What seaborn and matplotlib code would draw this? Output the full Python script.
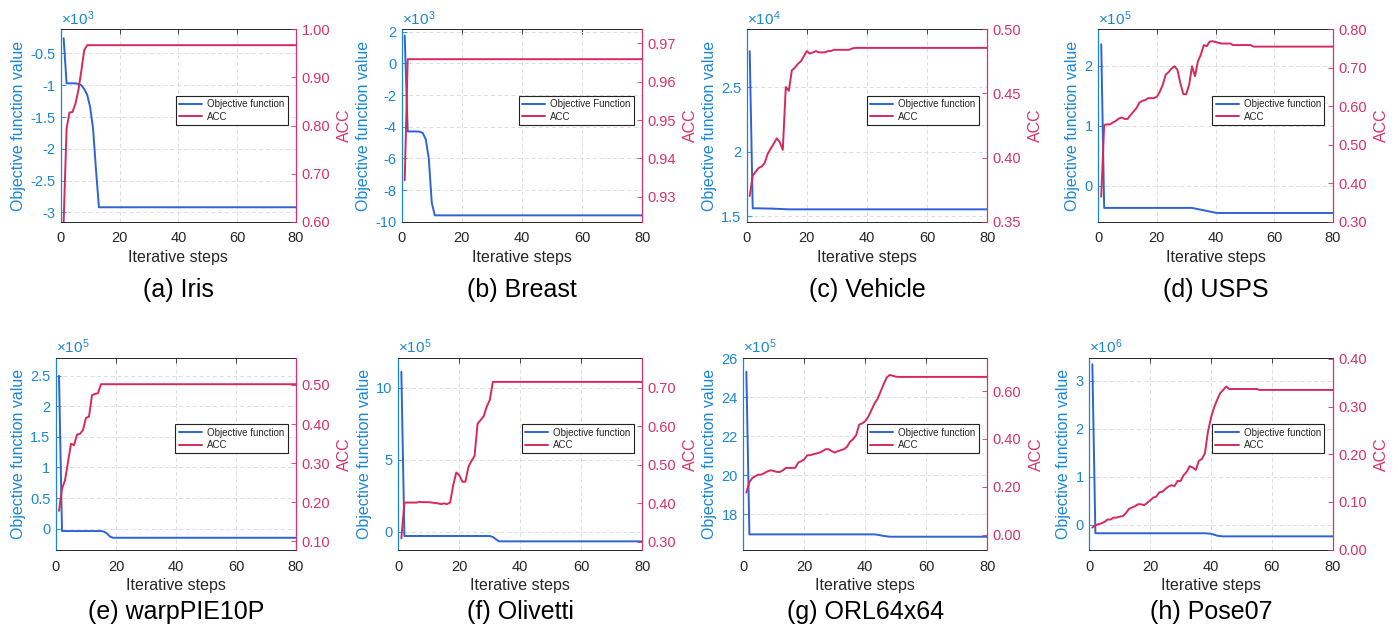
import matplotlib
matplotlib.use("Agg")
import matplotlib.pyplot as plt
import seaborn as sns
from matplotlib.ticker import FuncFormatter, FixedLocator

# ---------------- data ----------------
steps = list(range(1, 81))

titles = ['(a) Iris', '(b) Breast', '(c) Vehicle', '(d) USPS',
          '(e) warpPIE10P', '(f) Olivetti', '(g) ORL64x64', '(h) Pose07']
obj_names = ['Objective function', 'Objective Function', 'Objective function', 'Objective function',
             'Objective function', 'Objective function', 'Objective function', 'Objective function']
obj_exponents = [3, 3, 4, 5, 5, 5, 5, 6]

obj_iris = [-0.26, -0.97, -0.97, -0.97, -0.97, -0.98, -1.00, -1.06, -1.15, -1.34,
            -1.68, -2.33, -2.92, -2.92, -2.92, -2.92, -2.92, -2.92, -2.92, -2.92,
            -2.92, -2.92, -2.92, -2.92, -2.92, -2.92, -2.92, -2.92, -2.92, -2.92,
            -2.92, -2.92, -2.92, -2.92, -2.92, -2.92, -2.92, -2.92, -2.92, -2.92,
            -2.92, -2.92, -2.92, -2.92, -2.92, -2.92, -2.92, -2.92, -2.92, -2.92,
            -2.92, -2.92, -2.92, -2.92, -2.92, -2.92, -2.92, -2.92, -2.92, -2.92,
            -2.92, -2.92, -2.92, -2.92, -2.92, -2.92, -2.92, -2.92, -2.92, -2.92,
            -2.92, -2.92, -2.92, -2.92, -2.92, -2.92, -2.92, -2.92, -2.92, -2.92]
acc_iris = [0.600, 0.794, 0.827, 0.828, 0.845, 0.873, 0.913, 0.957, 0.967, 0.967,
            0.967, 0.967, 0.967, 0.967, 0.967, 0.967, 0.967, 0.967, 0.967, 0.967,
            0.967, 0.967, 0.967, 0.967, 0.967, 0.967, 0.967, 0.967, 0.967, 0.967,
            0.967, 0.967, 0.967, 0.967, 0.967, 0.967, 0.967, 0.967, 0.967, 0.967,
            0.967, 0.967, 0.967, 0.967, 0.967, 0.967, 0.967, 0.967, 0.967, 0.967,
            0.967, 0.967, 0.967, 0.967, 0.967, 0.967, 0.967, 0.967, 0.967, 0.967,
            0.967, 0.967, 0.967, 0.967, 0.967, 0.967, 0.967, 0.967, 0.967, 0.967,
            0.967, 0.967, 0.967, 0.967, 0.967, 0.967, 0.967, 0.967, 0.967, 0.967]

obj_breast = [1.75, -4.30, -4.30, -4.30, -4.30, -4.32, -4.40, -4.80, -6.00, -8.80,
              -9.60, -9.60, -9.60, -9.60, -9.60, -9.60, -9.60, -9.60, -9.60, -9.60,
              -9.60, -9.60, -9.60, -9.60, -9.60, -9.60, -9.60, -9.60, -9.60, -9.60,
              -9.60, -9.60, -9.60, -9.60, -9.60, -9.60, -9.60, -9.60, -9.60, -9.60,
              -9.60, -9.60, -9.60, -9.60, -9.60, -9.60, -9.60, -9.60, -9.60, -9.60,
              -9.60, -9.60, -9.60, -9.60, -9.60, -9.60, -9.60, -9.60, -9.60, -9.60,
              -9.60, -9.60, -9.60, -9.60, -9.60, -9.60, -9.60, -9.60, -9.60, -9.60,
              -9.60, -9.60, -9.60, -9.60, -9.60, -9.60, -9.60, -9.60, -9.60, -9.60]
acc_breast = [0.9343, 0.9659, 0.9659, 0.9659, 0.9659, 0.9659, 0.9659, 0.9659, 0.9659, 0.9659,
              0.9659, 0.9659, 0.9659, 0.9659, 0.9659, 0.9659, 0.9659, 0.9659, 0.9659, 0.9659,
              0.9659, 0.9659, 0.9659, 0.9659, 0.9659, 0.9659, 0.9659, 0.9659, 0.9659, 0.9659,
              0.9659, 0.9659, 0.9659, 0.9659, 0.9659, 0.9659, 0.9659, 0.9659, 0.9659, 0.9659,
              0.9659, 0.9659, 0.9659, 0.9659, 0.9659, 0.9659, 0.9659, 0.9659, 0.9659, 0.9659,
              0.9659, 0.9659, 0.9659, 0.9659, 0.9659, 0.9659, 0.9659, 0.9659, 0.9659, 0.9659,
              0.9659, 0.9659, 0.9659, 0.9659, 0.9659, 0.9659, 0.9659, 0.9659, 0.9659, 0.9659,
              0.9659, 0.9659, 0.9659, 0.9659, 0.9659, 0.9659, 0.9659, 0.9659, 0.9659, 0.9659]

obj_vehicle = [2.78, 1.560, 1.560, 1.560, 1.559, 1.559, 1.558, 1.558, 1.557, 1.556,
               1.555, 1.554, 1.553, 1.552, 1.552, 1.552, 1.552, 1.552, 1.552, 1.552,
               1.552, 1.552, 1.552, 1.552, 1.552, 1.552, 1.552, 1.552, 1.552, 1.552,
               1.552, 1.552, 1.552, 1.552, 1.552, 1.552, 1.552, 1.552, 1.552, 1.552,
               1.552, 1.552, 1.552, 1.552, 1.552, 1.552, 1.552, 1.552, 1.552, 1.552,
               1.552, 1.552, 1.552, 1.552, 1.552, 1.552, 1.552, 1.552, 1.552, 1.552,
               1.552, 1.552, 1.552, 1.552, 1.552, 1.552, 1.552, 1.552, 1.552, 1.552,
               1.552, 1.552, 1.552, 1.552, 1.552, 1.552, 1.552, 1.552, 1.552, 1.552]
acc_vehicle = [0.370, 0.386, 0.389, 0.392, 0.393, 0.396, 0.403, 0.407, 0.411, 0.415,
               0.412, 0.406, 0.455, 0.452, 0.468, 0.470, 0.473, 0.475, 0.479, 0.483,
               0.481, 0.482, 0.483, 0.482, 0.482, 0.482, 0.483, 0.483, 0.484, 0.484,
               0.484, 0.484, 0.484, 0.484, 0.485, 0.4855, 0.4855, 0.4855, 0.4855, 0.4855,
               0.4855, 0.4855, 0.4855, 0.4855, 0.4855, 0.4855, 0.4855, 0.4855, 0.4855, 0.4855,
               0.4855, 0.4855, 0.4855, 0.4855, 0.4855, 0.4855, 0.4855, 0.4855, 0.4855, 0.4855,
               0.4855, 0.4855, 0.4855, 0.4855, 0.4855, 0.4855, 0.4855, 0.4855, 0.4855, 0.4855,
               0.4855, 0.4855, 0.4855, 0.4855, 0.4855, 0.4855, 0.4855, 0.4855, 0.4855, 0.4855]

obj_usps = [2.36, -0.37, -0.37, -0.37, -0.37, -0.37, -0.37, -0.37, -0.37, -0.37,
            -0.37, -0.37, -0.37, -0.37, -0.37, -0.37, -0.37, -0.37, -0.37, -0.37,
            -0.37, -0.37, -0.37, -0.37, -0.37, -0.37, -0.37, -0.37, -0.37, -0.37,
            -0.37, -0.37, -0.38, -0.39, -0.40, -0.41, -0.42, -0.43, -0.44, -0.45,
            -0.455, -0.455, -0.455, -0.455, -0.455, -0.455, -0.455, -0.455, -0.455, -0.455,
            -0.455, -0.455, -0.455, -0.455, -0.455, -0.455, -0.455, -0.455, -0.455, -0.455,
            -0.455, -0.455, -0.455, -0.455, -0.455, -0.455, -0.455, -0.455, -0.455, -0.455,
            -0.455, -0.455, -0.455, -0.455, -0.455, -0.455, -0.455, -0.455, -0.455, -0.455]
acc_usps = [0.365, 0.551, 0.553, 0.553, 0.558, 0.562, 0.568, 0.571, 0.567, 0.567,
            0.577, 0.586, 0.595, 0.609, 0.614, 0.616, 0.621, 0.621, 0.621, 0.625,
            0.638, 0.656, 0.682, 0.689, 0.698, 0.704, 0.695, 0.660, 0.632, 0.631,
            0.656, 0.704, 0.678, 0.717, 0.734, 0.759, 0.756, 0.768, 0.769, 0.767,
            0.765, 0.763, 0.763, 0.763, 0.763, 0.759, 0.759, 0.759, 0.759, 0.759,
            0.759, 0.759, 0.755, 0.755, 0.755, 0.755, 0.755, 0.755, 0.755, 0.755,
            0.755, 0.755, 0.755, 0.755, 0.755, 0.755, 0.755, 0.755, 0.755, 0.755,
            0.755, 0.755, 0.755, 0.755, 0.755, 0.755, 0.755, 0.755, 0.755, 0.755]

obj_pie = [2.50, -0.04, -0.04, -0.04, -0.04, -0.04, -0.04, -0.04, -0.04, -0.04,
           -0.04, -0.04, -0.04, -0.04, -0.04, -0.05, -0.08, -0.13, -0.15, -0.15,
           -0.15, -0.15, -0.15, -0.15, -0.15, -0.15, -0.15, -0.15, -0.15, -0.15,
           -0.15, -0.15, -0.15, -0.15, -0.15, -0.15, -0.15, -0.15, -0.15, -0.15,
           -0.15, -0.15, -0.15, -0.15, -0.15, -0.15, -0.15, -0.15, -0.15, -0.15,
           -0.15, -0.15, -0.15, -0.15, -0.15, -0.15, -0.15, -0.15, -0.15, -0.15,
           -0.15, -0.15, -0.15, -0.15, -0.15, -0.15, -0.15, -0.15, -0.15, -0.15,
           -0.15, -0.15, -0.15, -0.15, -0.15, -0.15, -0.15, -0.15, -0.15, -0.15]
acc_pie = [0.178, 0.235, 0.256, 0.303, 0.350, 0.346, 0.373, 0.375, 0.385, 0.416,
           0.419, 0.474, 0.477, 0.479, 0.502, 0.502, 0.502, 0.502, 0.502, 0.502,
           0.502, 0.502, 0.502, 0.502, 0.502, 0.502, 0.502, 0.502, 0.502, 0.502,
           0.502, 0.502, 0.502, 0.502, 0.502, 0.502, 0.502, 0.502, 0.502, 0.502,
           0.502, 0.502, 0.502, 0.502, 0.502, 0.502, 0.502, 0.502, 0.502, 0.502,
           0.502, 0.502, 0.502, 0.502, 0.502, 0.502, 0.502, 0.502, 0.502, 0.502,
           0.502, 0.502, 0.502, 0.502, 0.502, 0.502, 0.502, 0.502, 0.502, 0.502,
           0.502, 0.502, 0.502, 0.502, 0.502, 0.502, 0.502, 0.502, 0.502, 0.502]

obj_olivetti = [11.1, -0.28, -0.28, -0.28, -0.28, -0.28, -0.28, -0.28, -0.28, -0.28,
                -0.28, -0.28, -0.28, -0.28, -0.28, -0.28, -0.28, -0.28, -0.28, -0.28,
                -0.28, -0.28, -0.28, -0.28, -0.28, -0.28, -0.28, -0.28, -0.28, -0.28,
                -0.35, -0.50, -0.65, -0.65, -0.65, -0.65, -0.65, -0.65, -0.65, -0.65,
                -0.65, -0.65, -0.65, -0.65, -0.65, -0.65, -0.65, -0.65, -0.65, -0.65,
                -0.65, -0.65, -0.65, -0.65, -0.65, -0.65, -0.65, -0.65, -0.65, -0.65,
                -0.65, -0.65, -0.65, -0.65, -0.65, -0.65, -0.65, -0.65, -0.65, -0.65,
                -0.65, -0.65, -0.65, -0.65, -0.65, -0.65, -0.65, -0.65, -0.65, -0.65]
acc_olivetti = [0.309, 0.402, 0.402, 0.402, 0.402, 0.402, 0.404, 0.403, 0.403, 0.403,
                0.402, 0.401, 0.400, 0.398, 0.400, 0.398, 0.402, 0.447, 0.480, 0.473,
                0.456, 0.456, 0.495, 0.510, 0.523, 0.607, 0.616, 0.626, 0.651, 0.668,
                0.715, 0.715, 0.715, 0.715, 0.715, 0.715, 0.715, 0.715, 0.715, 0.715,
                0.715, 0.715, 0.715, 0.715, 0.715, 0.715, 0.715, 0.715, 0.715, 0.715,
                0.715, 0.715, 0.715, 0.715, 0.715, 0.715, 0.715, 0.715, 0.715, 0.715,
                0.715, 0.715, 0.715, 0.715, 0.715, 0.715, 0.715, 0.715, 0.715, 0.715,
                0.715, 0.715, 0.715, 0.715, 0.715, 0.715, 0.715, 0.715, 0.715, 0.715]

obj_orl = [25.3, 16.97, 16.97, 16.97, 16.97, 16.97, 16.97, 16.97, 16.97, 16.97,
           16.97, 16.97, 16.97, 16.97, 16.97, 16.97, 16.97, 16.97, 16.97, 16.97,
           16.97, 16.97, 16.97, 16.97, 16.97, 16.97, 16.97, 16.97, 16.97, 16.97,
           16.97, 16.97, 16.97, 16.97, 16.97, 16.97, 16.97, 16.97, 16.97, 16.97,
           16.97, 16.97, 16.97, 16.95, 16.92, 16.89, 16.87, 16.85, 16.85, 16.85,
           16.85, 16.85, 16.85, 16.85, 16.85, 16.85, 16.85, 16.85, 16.85, 16.85,
           16.85, 16.85, 16.85, 16.85, 16.85, 16.85, 16.85, 16.85, 16.85, 16.85,
           16.85, 16.85, 16.85, 16.85, 16.85, 16.85, 16.85, 16.85, 16.85, 16.85]
acc_orl = [0.176, 0.220, 0.237, 0.245, 0.251, 0.251, 0.258, 0.265, 0.269, 0.266,
           0.262, 0.262, 0.269, 0.279, 0.279, 0.279, 0.279, 0.301, 0.307, 0.315,
           0.332, 0.332, 0.336, 0.339, 0.343, 0.349, 0.357, 0.357, 0.349, 0.343,
           0.349, 0.353, 0.357, 0.367, 0.388, 0.399, 0.416, 0.460, 0.465, 0.474,
           0.493, 0.520, 0.548, 0.567, 0.597, 0.628, 0.656, 0.667, 0.664, 0.660,
           0.659, 0.659, 0.659, 0.659, 0.659, 0.659, 0.659, 0.659, 0.659, 0.659,
           0.659, 0.659, 0.659, 0.659, 0.659, 0.659, 0.659, 0.659, 0.659, 0.659,
           0.659, 0.659, 0.659, 0.659, 0.659, 0.659, 0.659, 0.659, 0.659, 0.659]

obj_pose = [3.35, -0.18, -0.18, -0.18, -0.18, -0.18, -0.18, -0.18, -0.18, -0.18,
            -0.18, -0.18, -0.18, -0.18, -0.18, -0.18, -0.18, -0.18, -0.18, -0.18,
            -0.18, -0.18, -0.18, -0.18, -0.18, -0.18, -0.18, -0.18, -0.18, -0.18,
            -0.18, -0.18, -0.18, -0.18, -0.18, -0.18, -0.18, -0.18, -0.185, -0.19,
            -0.21, -0.23, -0.24, -0.245, -0.245, -0.245, -0.245, -0.245, -0.245, -0.245,
            -0.245, -0.245, -0.245, -0.245, -0.245, -0.245, -0.245, -0.245, -0.245, -0.245,
            -0.245, -0.245, -0.245, -0.245, -0.245, -0.245, -0.245, -0.245, -0.245, -0.245,
            -0.245, -0.245, -0.245, -0.245, -0.245, -0.245, -0.245, -0.245, -0.245, -0.245]
acc_pose = [0.046, 0.051, 0.053, 0.055, 0.058, 0.063, 0.063, 0.067, 0.067, 0.069,
            0.070, 0.076, 0.085, 0.088, 0.091, 0.095, 0.095, 0.093, 0.098, 0.103,
            0.109, 0.111, 0.120, 0.121, 0.127, 0.132, 0.135, 0.133, 0.144, 0.144,
            0.156, 0.163, 0.175, 0.172, 0.167, 0.186, 0.190, 0.202, 0.247, 0.277,
            0.298, 0.314, 0.328, 0.335, 0.342, 0.337, 0.337, 0.337, 0.337, 0.337,
            0.337, 0.337, 0.337, 0.337, 0.337, 0.335, 0.335, 0.335, 0.335, 0.335,
            0.335, 0.335, 0.335, 0.335, 0.335, 0.335, 0.335, 0.335, 0.335, 0.335,
            0.335, 0.335, 0.335, 0.335, 0.335, 0.335, 0.335, 0.335, 0.335, 0.335]

obj_series = [obj_iris, obj_breast, obj_vehicle, obj_usps, obj_pie, obj_olivetti, obj_orl, obj_pose]
acc_series = [acc_iris, acc_breast, acc_vehicle, acc_usps, acc_pie, acc_olivetti, acc_orl, acc_pose]

# ---------------- axis setup (layout) ----------------
left_lims = [(-3.147, -0.12), (-10, 2.15), (1.456, 2.95), (-0.6, 2.61),
             (-0.35, 2.79), (-1.25, 12.06), (16.17, 26.0), (-0.53, 3.48)]
left_ticks = [[-3, -2.5, -2, -1.5, -1, -0.5], [-10, -8, -6, -4, -2, 0, 2], [1.5, 2, 2.5], [0, 1, 2],
              [0, 0.5, 1, 1.5, 2, 2.5], [0, 5, 10], [18, 20, 22, 24, 26], [0, 1, 2, 3]]
right_lims = [(0.6, 1.0), (0.9235, 0.9737), (0.35, 0.50), (0.3, 0.8),
              (0.078, 0.569), (0.279, 0.777), (-0.064, 0.738), (-0.001, 0.402)]
right_ticks = [[0.6, 0.7, 0.8, 0.9, 1.0], [0.93, 0.94, 0.95, 0.96, 0.97], [0.35, 0.40, 0.45, 0.50],
               [0.3, 0.4, 0.5, 0.6, 0.7, 0.8], [0.1, 0.2, 0.3, 0.4, 0.5], [0.3, 0.4, 0.5, 0.6, 0.7],
               [0.0, 0.2, 0.4, 0.6], [0.0, 0.1, 0.2, 0.3, 0.4]]

W, H = 1398, 633
px_cols_row1 = [(60.7, 296.0), (401.7, 642.3), (746.7, 987.3), (1098.3, 1332.7)]
px_cols_row2 = [(56.0, 296.0), (398.3, 642.3), (743.3, 987.3), (1089.3, 1332.7)]
rows_px = [(29.3, 221.7), (358.0, 550.0)]
caption_y_px = [290, 612]

LEFT_C = '#1B87D2'
RIGHT_C = '#D6336B'
OBJ_LINE = '#2E62D6'
ACC_LINE = '#D42A5C'
TXT = '#262626'

sns.set_theme(style='white')
plt.rcParams['font.family'] = ['Liberation Sans', 'DejaVu Sans']
plt.rcParams['mathtext.fontset'] = 'custom'
plt.rcParams['mathtext.rm'] = 'Liberation Sans'
plt.rcParams['mathtext.it'] = 'Liberation Sans:italic'
plt.rcParams['axes.unicode_minus'] = False

fig = plt.figure(figsize=(W / 100, H / 100), dpi=100)
fig.patch.set_facecolor('white')

for i in range(8):
    r = i // 4
    cols = px_cols_row1 if r == 0 else px_cols_row2
    x0, x1 = cols[i % 4]
    top, bot = rows_px[r]
    ax = fig.add_axes([x0 / W, 1 - bot / H, (x1 - x0) / W, (bot - top) / H])
    ax2 = ax.twinx()

    sns.lineplot(x=steps, y=obj_series[i], ax=ax, color=OBJ_LINE, linewidth=1.4,
                 errorbar=None, sort=False)
    sns.lineplot(x=steps, y=acc_series[i], ax=ax2, color=ACC_LINE, linewidth=1.4,
                 errorbar=None, sort=False)
    l1 = ax.lines[-1]
    l2 = ax2.lines[-1]

    ax.set_xlim(0, 80)
    ax.xaxis.set_major_locator(FixedLocator([0, 20, 40, 60, 80]))
    ax.set_ylim(*left_lims[i])
    ax.yaxis.set_major_locator(FixedLocator(left_ticks[i]))
    ax.yaxis.set_major_formatter(FuncFormatter(lambda v, p: f'{v:g}'))
    ax2.set_ylim(*right_lims[i])
    ax2.yaxis.set_major_locator(FixedLocator(right_ticks[i]))
    ax2.yaxis.set_major_formatter(FuncFormatter(lambda v, p: f'{v:.2f}'))

    ax.grid(True, linestyle=(0, (4, 3)), color='#dddddd', linewidth=0.7)
    ax.set_axisbelow(True)

    ax.tick_params(axis='x', direction='in', length=3.5, width=0.6, colors=TXT,
                   labelsize=10.5, top=True, pad=7)
    ax.tick_params(axis='y', direction='in', length=3.5, width=0.6, colors=LEFT_C,
                   labelsize=10.5, pad=4)
    ax2.tick_params(axis='y', direction='in', length=3.5, width=0.6, colors=RIGHT_C,
                    labelsize=10.5, pad=4)

    for s in ['top', 'bottom']:
        ax.spines[s].set_color(TXT)
        ax.spines[s].set_linewidth(0.7)
    ax.spines['left'].set_color(LEFT_C)
    ax.spines['left'].set_linewidth(0.9)
    ax.spines['right'].set_visible(False)
    for s in ['top', 'bottom', 'left']:
        ax2.spines[s].set_visible(False)
    ax2.spines['right'].set_color(RIGHT_C)
    ax2.spines['right'].set_linewidth(0.9)

    ax.set_xlabel('Iterative steps', fontsize=11.5, color=TXT, labelpad=3)
    ax.set_ylabel('Objective function value', fontsize=11.5, color=LEFT_C, labelpad=3)
    ax2.set_ylabel('ACC', fontsize=11.5, color=RIGHT_C, labelpad=5)

    ax.text(0.0, 1.008, r'$\times\mathregular{10^{%d}}$' % obj_exponents[i],
            transform=ax.transAxes, ha='left', va='bottom', fontsize=11, color=LEFT_C)

    leg = ax2.legend([l1, l2], [obj_names[i], 'ACC'], loc='upper right',
                     bbox_to_anchor=(0.965, 0.655), fontsize=7, frameon=True,
                     fancybox=False, framealpha=1, edgecolor='#222222',
                     handlelength=2.4, handletextpad=0.5, borderpad=0.35,
                     labelspacing=0.25, borderaxespad=0)
    leg.get_frame().set_linewidth(0.8)

    fig.text((x0 + x1) / 2 / W, 1 - caption_y_px[r] / H, titles[i], fontsize=18,
             ha='center', va='center', color='black')

fig.savefig('out.png', dpi=100, facecolor='white')
